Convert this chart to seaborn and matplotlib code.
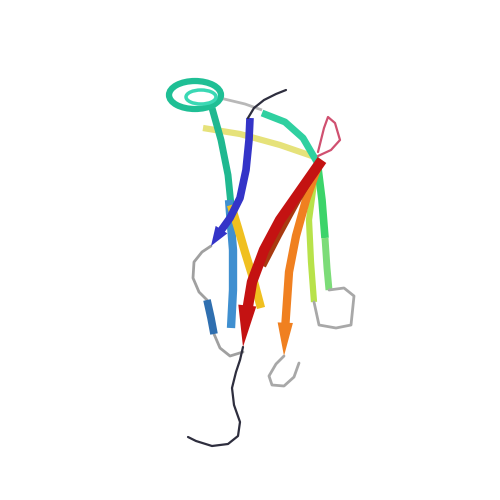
import matplotlib
matplotlib.use("Agg")
import matplotlib.pyplot as plt
import seaborn as sns
import pandas as pd
from matplotlib.patches import Ellipse

sns.set_style("white")

# ---- path data (image pixel space, y downwards) ----
n_coil_x = [286, 276, 264, 254, 248]
n_coil_y = [90, 94, 100, 108, 118]

b1_x = [250, 249, 246, 240, 230, 220, 211]
b1_y = [118, 140, 170, 198, 218, 232, 246]

loop1_x = [211, 202, 194, 193, 199, 207]
loop1_y = [246, 252, 262, 278, 292, 300]

b2_x = [207, 211, 214]
b2_y = [300, 318, 334]

lb_x = [229, 233, 233, 231]
lb_y = [200, 250, 290, 328]

loop2_x = [214, 220, 230, 243]
loop2_y = [334, 348, 356, 352]

teal_x = [212, 221, 228, 231]
teal_y = [108, 140, 175, 205]

conn_x = [220, 245, 262]
conn_y = [98, 104, 110]

cyan_x = [262, 285, 303, 317]
cyan_y = [113, 122, 138, 162]

green_x = [318, 322, 325, 327, 329]
green_y = [168, 200, 238, 268, 290]

loopR_x = [329, 344, 354, 351, 336, 319, 314]
loopR_y = [290, 288, 296, 325, 328, 325, 302]

lgreen_x = [314, 311, 309, 316]
lgreen_y = [302, 262, 220, 168]

ytop_x = [203, 240, 280, 312]
ytop_y = [128, 134, 145, 156]

ylow_x = [231, 238, 245, 253, 261]
ylow_y = [205, 228, 252, 278, 308]

dred_x = [318, 298, 279, 263]
dred_y = [166, 200, 235, 266]

orange_x = [318, 306, 296, 289, 285, 284]
orange_y = [166, 200, 236, 272, 330, 356]

loopB_x = [284, 276, 269, 272, 284, 294, 299]
loopB_y = [356, 364, 376, 385, 386, 377, 363]

red_x = [322, 301, 280, 264, 252, 246, 243]
red_y = [160, 190, 220, 250, 282, 318, 347]

pink_x = [318, 324, 328, 335, 340, 331, 318]
pink_y = [152, 128, 117, 123, 140, 150, 156]

c_coil_x = [243, 240, 236, 232, 234, 240, 238, 228, 212, 196, 188]
c_coil_y = [347, 360, 372, 388, 405, 422, 436, 444, 446, 441, 437]

fig = plt.figure(figsize=(5, 5), dpi=100)
ax = fig.add_axes([0, 0, 1, 1])
ax.set_xlim(0, 500)
ax.set_ylim(500, 0)
ax.axis("off")


def path(x, y, color, lw, z=2, cap="butt"):
    df = pd.DataFrame({"x": x, "y": y})
    sns.lineplot(data=df, x="x", y="y", sort=False, estimator=None, ax=ax,
                 color=color, linewidth=lw, zorder=z,
                 solid_capstyle=cap, solid_joinstyle="round")


def strand(x, y, color, lw, z, hw=12, hl=None):
    # body up to the arrow base, then an arrowhead to the final point
    path(x[:-1], y[:-1], color, lw, z)
    ax.annotate("", xy=(x[-1], y[-1]), xytext=(x[-2], y[-2]),
                arrowprops=dict(facecolor=color, edgecolor="none", width=0.1,
                                headwidth=hw, headlength=hl or 20, shrink=0),
                zorder=z)


gray = "#a8a8a8"
# back layer
path(ytop_x, ytop_y, "#e6e27a", 4.5, 1)
path(conn_x, conn_y, "#b8b8b8", 2, 1)
path(cyan_x, cyan_y, "#2fd0a0", 5, 2)
path(lgreen_x, lgreen_y, "#b8e24a", 4.5, 2)
path(green_x[:3], green_y[:3], "#3cd46a", 5.5, 2)
path(green_x[2:], green_y[2:], "#7cdc78", 5, 2)
path(loopR_x, loopR_y, gray, 2, 2, "round")
path(teal_x, teal_y, "#20b890", 5, 2)
path(lb_x, lb_y, "#3f8fd0", 6, 2)
path(pink_x, pink_y, "#d05070", 1.6, 2, "round")

# helix
ax.add_patch(Ellipse((195, 95), 52, 28, fill=False, edgecolor="#1fbf95",
                     linewidth=4.5, zorder=3))
ax.add_patch(Ellipse((201, 97), 30, 14, fill=False, edgecolor="#3ad8b4",
                     linewidth=2.5, zorder=3))

path(ylow_x, ylow_y, "#f0c020", 6, 3)
strand(orange_x, orange_y, "#f08020", 6, 3, 11, 24)
path(loopB_x, loopB_y, gray, 2, 3, "round")
path(dred_x, dred_y, "#a83a10", 4.5, 4)
strand(red_x, red_y, "#c41212", 7.5, 5, 13, 30)

path(loop1_x, loop1_y, "#a0a0a0", 2, 4, "round")
path(loop2_x, loop2_y, "#a0a0a0", 2, 4, "round")
path(b2_x, b2_y, "#2f6fb0", 5.5, 5)
strand(b1_x, b1_y, "#3434c8", 5.5, 6, 10, 14)

path(n_coil_x, n_coil_y, "#2e2e3e", 1.6, 7, "round")
path(c_coil_x, c_coil_y, "#2e2e3e", 1.6, 7, "round")

fig.savefig("out.png", dpi=100, facecolor="white")
